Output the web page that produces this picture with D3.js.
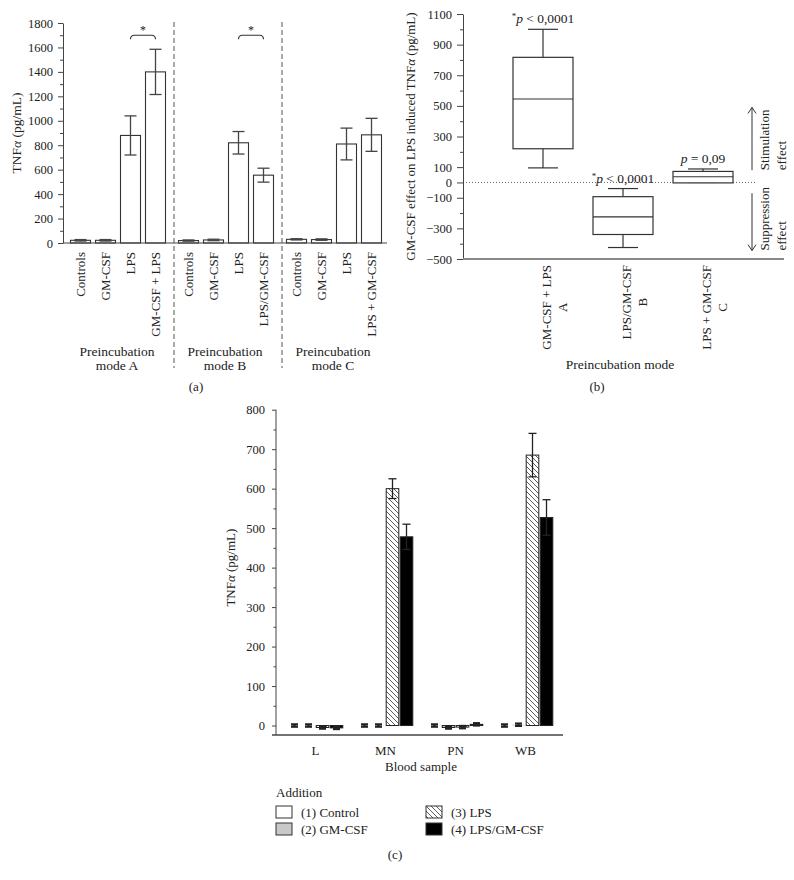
<!DOCTYPE html>
<html>
<head>
<meta charset="utf-8">
<script src="https://cdnjs.cloudflare.com/ajax/libs/d3/7.8.5/d3.min.js"></script>
<style>
body { margin: 0; background: #fff; }
text { font-family: 'Liberation Serif', 'DejaVu Serif', serif; fill: #222; }
</style>
</head>
<body>
<div id="chart"></div>
<script>
// ---- data: panel (a)
var modesA = ['A', 'B', 'C'];
var barLabelsA = [
    ['Controls', 'GM-CSF', 'LPS', 'GM-CSF + LPS'],
    ['Controls', 'GM-CSF', 'LPS', 'LPS/GM-CSF'],
    ['Controls', 'GM-CSF', 'LPS', 'LPS + GM-CSF']
];
var meanA = [[22, 22, 880, 1400], [20, 25, 820, 555], [30, 28, 810, 885]];
var errA = [[6, 6, 160, 185], [5, 6, 92, 57], [5, 6, 130, 135]];
var starA = [['A', 2, 3, 1700], ['B', 2, 3, 1700]];
var ticksA = [0, 200, 400, 600, 800, 1000, 1200, 1400, 1600, 1800];
var minorA = [100, 300, 500, 700, 900, 1100, 1300, 1500, 1700];

// ---- data: panel (b)
var boxMode = ['A', 'B', 'C'];
var boxLabel = ['GM-CSF + LPS', 'LPS/GM-CSF', 'LPS + GM-CSF'];
var boxMin = [95, -425, 0];
var boxQ1 = [220, -340, -3];
var boxMed = [545, -225, 37];
var boxQ3 = [817, -93, 72];
var boxMax = [1000, -40, 88];
var boxStar = [true, true, false];
var boxP = [' < 0,0001', ' < 0,0001', ' = 0,09'];
var ticksB = [1100, 900, 700, 500, 300, 100, 0, -100, -300, -500];
var minorB = [1000, 800, 600, 400, 200, -200, -400];

// ---- data: panel (c)
var samples = ['L', 'MN', 'PN', 'WB'];
var additions = ['(1) Control', '(2) GM-CSF', '(3) LPS', '(4) LPS/GM-CSF'];
var meanC = [[0, 0, -5, -6], [0, 0, 600, 478], [0, -5, -4, 3], [0, 2, 685, 527]];
var errC = [[3, 3, 3, 3], [3, 3, 25, 32], [3, 3, 3, 3], [3, 3, 55, 45]];
var ticksC = [0, 100, 200, 300, 400, 500, 600, 700, 800];
var minorC = [50, 150, 250, 350, 450, 550, 650, 750];

var width = 794, height = 880;
var fmt = d3.format('d');
var svg = d3.select('#chart')
    .append('svg')
    .attr('width', width)
    .attr('height', height);

svg.append('defs').append('pattern')
    .attr('id', 'hatch')
    .attr('patternUnits', 'userSpaceOnUse')
    .attr('width', 5).attr('height', 5)
    .append('path')
    .attr('d', 'M-1,-1 L6,6 M-1,4 L1,6 M4,-1 L6,1')
    .attr('stroke', '#333')
    .attr('stroke-width', 0.8);

function styleAxis(g, col) {
    g.attr('font-family', null).attr('font-size', 12.5);
    g.selectAll('path, line').attr('stroke', col);
    g.selectAll('text').attr('fill', '#222');
}

function errorBar(g, x, y0, y1, capW, col, sw) {
    g.append('line').attr('x1', x).attr('x2', x).attr('y1', y0).attr('y2', y1)
        .attr('stroke', col).attr('stroke-width', sw);
    [y0, y1].forEach(function(y){
        g.append('line').attr('x1', x - capW / 2).attr('x2', x + capW / 2).attr('y1', y).attr('y2', y)
            .attr('stroke', col).attr('stroke-width', sw);
    });
}

function rotLabel(g, x, y, anchor, txt) {
    return g.append('text')
        .attr('transform', 'translate(' + x + ',' + y + ') rotate(-90)')
        .attr('text-anchor', anchor)
        .attr('dy', '0.35em')
        .attr('font-size', 13)
        .text(txt);
}

// =========== panel (a)
var ya = d3.scaleLinear().domain([0, 1800]).range([243, 23]);
var xaGroup = d3.scaleBand().domain(modesA).range([63, 387]);
var xaBar = d3.scaleBand().domain([0, 1, 2, 3]).range([5, 105]).paddingInner(0.2).paddingOuter(0.1);
var gA = svg.append('g');

modesA.forEach(function(m, gi){
    var gx = xaGroup(m);
    gA.selectAll('.bar' + m)
        .data(meanA[gi])
        .enter()
        .append('rect')
        .attr('class', 'bar' + m)
        .attr('x', function(d, i){ return gx + xaBar(i); })
        .attr('y', function(d){ return ya(d); })
        .attr('width', xaBar.bandwidth())
        .attr('height', function(d){ return ya(0) - ya(d); })
        .attr('fill', '#fff')
        .attr('stroke', '#333')
        .attr('stroke-width', 1.1);
    meanA[gi].forEach(function(d, i){
        var cx = gx + xaBar(i) + xaBar.bandwidth() / 2;
        errorBar(gA, cx, ya(d + errA[gi][i]), ya(d - errA[gi][i]), 12, '#444', 1.3);
        rotLabel(gA, cx, 252, 'end', barLabelsA[gi][i]);
    });
    var mx = gx + xaGroup.bandwidth() / 2;
    gA.append('text').attr('x', mx).attr('y', 356).attr('text-anchor', 'middle')
        .attr('font-size', 13.5).text('Preincubation');
    gA.append('text').attr('x', mx).attr('y', 370).attr('text-anchor', 'middle')
        .attr('font-size', 13.5).text('mode ' + m);
    if (gi > 0) {
        var sx = (xaGroup(modesA[gi - 1]) + xaBar(3) + xaBar.bandwidth() + gx + xaBar(0)) / 2 + 2;
        gA.append('line').attr('x1', sx).attr('x2', sx).attr('y1', 22).attr('y2', 368)
            .attr('stroke', '#555').attr('stroke-width', 1).attr('stroke-dasharray', '5,3');
    }
});

starA.forEach(function(s){
    var gx = xaGroup(s[0]);
    var x1 = gx + xaBar(s[1]) + xaBar.bandwidth() / 2;
    var x2 = gx + xaBar(s[2]) + xaBar.bandwidth() / 2;
    var y = ya(s[3]);
    gA.append('path')
        .attr('d', 'M' + x1 + ',' + (y + 4) + ' Q' + x1 + ',' + y + ' ' + (x1 + 4) + ',' + y +
            ' L' + (x2 - 4) + ',' + y + ' Q' + x2 + ',' + y + ' ' + x2 + ',' + (y + 4))
        .attr('fill', 'none').attr('stroke', '#333').attr('stroke-width', 1.1);
    gA.append('text').attr('x', (x1 + x2) / 2).attr('y', y - 1).attr('text-anchor', 'middle')
        .attr('font-size', 12).text('*');
});

var axA = gA.append('g').attr('transform', 'translate(63,0)')
    .call(d3.axisLeft(ya).tickValues(ticksA).tickFormat(fmt).tickSize(5).tickPadding(5).tickSizeOuter(0));
styleAxis(axA, '#444');
var axAm = gA.append('g').attr('transform', 'translate(63,0)')
    .call(d3.axisLeft(ya).tickValues(minorA).tickSize(3).tickFormat(''));
axAm.select('.domain').remove();
styleAxis(axAm, '#444');
gA.append('line').attr('x1', 63).attr('x2', 387).attr('y1', ya(0)).attr('y2', ya(0))
    .attr('stroke', '#444').attr('stroke-width', 1.2);

var labA = gA.append('text')
    .attr('transform', 'translate(16,' + ((ya(0) + ya(1800)) / 2) + ') rotate(-90)')
    .attr('text-anchor', 'middle').attr('dy', '0.35em').attr('font-size', 13.5);
labA.append('tspan').text('TNF');
labA.append('tspan').attr('font-style', 'italic').text('α');
labA.append('tspan').text(' (pg/mL)');
gA.append('text').attr('x', 196).attr('y', 391).attr('text-anchor', 'middle')
    .attr('font-size', 13).text('(a)');

// =========== panel (b)
var yb = d3.scaleLinear().domain([-500, 1100]).range([259, 14]);
var xb = d3.scalePoint().domain(boxMode).range([463, 783]).padding(1);
var gB = svg.append('g');
var boxW = 60, capB = 30;

gB.append('line').attr('x1', 463).attr('x2', 755).attr('y1', yb(0)).attr('y2', yb(0))
    .attr('stroke', '#666').attr('stroke-width', 1).attr('stroke-dasharray', '1,2');

boxMode.forEach(function(m, i){
    var cx = xb(m);
    gB.append('line').attr('x1', cx).attr('x2', cx).attr('y1', yb(boxMax[i])).attr('y2', yb(boxMin[i]))
        .attr('stroke', '#333').attr('stroke-width', 1.2);
    [boxMax[i], boxMin[i]].forEach(function(v){
        gB.append('line').attr('x1', cx - capB / 2).attr('x2', cx + capB / 2)
            .attr('y1', yb(v)).attr('y2', yb(v)).attr('stroke', '#333').attr('stroke-width', 1.2);
    });
    gB.append('rect').attr('x', cx - boxW / 2).attr('y', yb(boxQ3[i]))
        .attr('width', boxW).attr('height', yb(boxQ1[i]) - yb(boxQ3[i]))
        .attr('fill', '#fff').attr('stroke', '#333').attr('stroke-width', 1.2);
    gB.append('line').attr('x1', cx - boxW / 2).attr('x2', cx + boxW / 2)
        .attr('y1', yb(boxMed[i])).attr('y2', yb(boxMed[i])).attr('stroke', '#333').attr('stroke-width', 1.2);

    var t = gB.append('text').attr('x', cx).attr('y', yb(boxMax[i]) - 6)
        .attr('text-anchor', 'middle').attr('font-size', 13.5);
    if (boxStar[i]) t.append('tspan').attr('font-size', 9).attr('dy', -4).text('*');
    t.append('tspan').attr('font-style', 'italic').attr('dy', boxStar[i] ? 4 : 0).text('p');
    t.append('tspan').text(boxP[i]);

    // two-line rotated category label
    var l1 = gB.append('text')
        .attr('transform', 'translate(' + (cx + 3) + ',265) rotate(-90)')
        .attr('text-anchor', 'end').attr('dy', '0.35em').attr('font-size', 13).text(boxLabel[i]);
    var len = l1.node().getComputedTextLength();
    gB.append('text')
        .attr('transform', 'translate(' + (cx + 19) + ',' + (265 + len / 2) + ') rotate(-90)')
        .attr('text-anchor', 'middle').attr('dy', '0.35em').attr('font-size', 13).text(m);
});

var axB = gB.append('g').attr('transform', 'translate(463,0)')
    .call(d3.axisLeft(yb).tickValues(ticksB).tickFormat(fmt).tickSize(6).tickPadding(5).tickSizeOuter(0));
styleAxis(axB, '#444');
var axBm = gB.append('g').attr('transform', 'translate(463,0)')
    .call(d3.axisLeft(yb).tickValues(minorB).tickSize(3).tickFormat(''));
axBm.select('.domain').remove();
styleAxis(axBm, '#444');
gB.append('line').attr('x1', 463).attr('x2', 784).attr('y1', yb(-500)).attr('y2', yb(-500))
    .attr('stroke', '#888').attr('stroke-width', 2);

var labB = gB.append('text')
    .attr('transform', 'translate(410,' + ((yb(-500) + yb(1100)) / 2) + ') rotate(-90)')
    .attr('text-anchor', 'middle').attr('dy', '0.35em').attr('font-size', 13);
labB.append('tspan').text('GM-CSF effect on LPS induced TNF');
labB.append('tspan').attr('font-style', 'italic').text('α');
labB.append('tspan').text(' (pg/mL)');

// stimulation / suppression arrows
function arrow(x, y0, y1) {
    var dir = y1 < y0 ? 1 : -1;
    gB.append('line').attr('x1', x).attr('x2', x).attr('y1', y0).attr('y2', y1)
        .attr('stroke', '#333').attr('stroke-width', 1);
    gB.append('path')
        .attr('d', 'M' + (x - 4) + ',' + (y1 + dir * 6) + ' L' + x + ',' + y1 + ' L' + (x + 4) + ',' + (y1 + dir * 6))
        .attr('fill', 'none').attr('stroke', '#333').attr('stroke-width', 1);
}
arrow(752, yb(80), yb(490));
arrow(752, yb(-70), yb(-445));
rotLabel(gB, 764, yb(80), 'start', 'Stimulation');
rotLabel(gB, 781, yb(80), 'start', 'effect');
rotLabel(gB, 764, yb(-445), 'start', 'Suppression');
rotLabel(gB, 781, yb(-445), 'start', 'effect');

gB.append('text').attr('x', 620).attr('y', 369).attr('text-anchor', 'middle')
    .attr('font-size', 13.5).text('Preincubation mode');
gB.append('text').attr('x', 597).attr('y', 391).attr('text-anchor', 'middle')
    .attr('font-size', 13).text('(b)');

// =========== panel (c)
var yc = d3.scaleLinear().domain([-24, 800]).range([735, 409.7]);
var xc0 = d3.scaleBand().domain(samples).range([280.5, 560.5]);
var xc1 = d3.scaleBand().domain(additions).range([0, 70]).paddingInner(0.1).paddingOuter(0.55);
var fills = ['#fff', '#c8c8c8', 'url(#hatch)', '#000'];
var gC = svg.append('g');

samples.forEach(function(s, si){
    additions.forEach(function(a, ai){
        var v = meanC[si][ai];
        var x = xc0(s) + xc1(a);
        var h = Math.abs(yc(v) - yc(0));
        gC.append('rect')
            .attr('x', x).attr('y', Math.min(yc(v), yc(0)))
            .attr('width', xc1.bandwidth()).attr('height', h)
            .attr('fill', fills[ai])
            .attr('stroke', h < 1 ? 'none' : '#222')
            .attr('stroke-width', 1);
        var small = errC[si][ai] < 10;
        errorBar(gC, x + xc1.bandwidth() / 2, yc(v + errC[si][ai]), yc(v - errC[si][ai]),
            small ? 7 : 8, '#222', small ? 2.2 : 1.3);
    });
});

var axC = gC.append('g').attr('transform', 'translate(276,0)')
    .call(d3.axisLeft(yc).tickValues(ticksC).tickFormat(fmt).tickSize(4).tickPadding(7).tickSizeOuter(0));
styleAxis(axC, '#444');
axC.select('.domain').attr('d', 'M0,' + yc(800) + 'V' + yc(-24));
var axCm = gC.append('g').attr('transform', 'translate(276,0)')
    .call(d3.axisLeft(yc).tickValues(minorC).tickSize(2.5).tickFormat(''));
axCm.select('.domain').remove();
styleAxis(axCm, '#444');

var axCx = gC.append('g').attr('transform', 'translate(0,735)')
    .call(d3.axisBottom(xc0).tickSize(0).tickPadding(11));
styleAxis(axCx, '#444');
axCx.select('.domain').remove();
axCx.selectAll('text').attr('font-size', 13);
gC.append('line').attr('x1', 272).attr('x2', 563).attr('y1', 735).attr('y2', 735)
    .attr('stroke', '#444').attr('stroke-width', 1.5);

var labC = gC.append('text')
    .attr('transform', 'translate(230,' + ((yc(0) + yc(800)) / 2) + ') rotate(-90)')
    .attr('text-anchor', 'middle').attr('dy', '0.35em').attr('font-size', 13);
labC.append('tspan').text('TNF');
labC.append('tspan').attr('font-style', 'italic').text('α');
labC.append('tspan').text(' (pg/mL)');

gC.append('text').attr('x', 421).attr('y', 771).attr('text-anchor', 'middle')
    .attr('font-size', 13).text('Blood sample');

// legend
var lg = gC.append('g');
lg.append('text').attr('x', 276).attr('y', 797).attr('font-size', 13).text('Addition');
additions.forEach(function(a, i){
    var lx = i < 2 ? 276 : 426;
    var ly = 806 + (i % 2) * 17;
    lg.append('rect').attr('x', lx).attr('y', ly).attr('width', 16).attr('height', 12)
        .attr('fill', fills[i]).attr('stroke', '#333').attr('stroke-width', 1);
    lg.append('text').attr('x', lx + 25).attr('y', ly + 11).attr('font-size', 13).text(a);
});

gC.append('text').attr('x', 395).attr('y', 859).attr('text-anchor', 'middle')
    .attr('font-size', 13).text('(c)');
</script>
</body>
</html>
